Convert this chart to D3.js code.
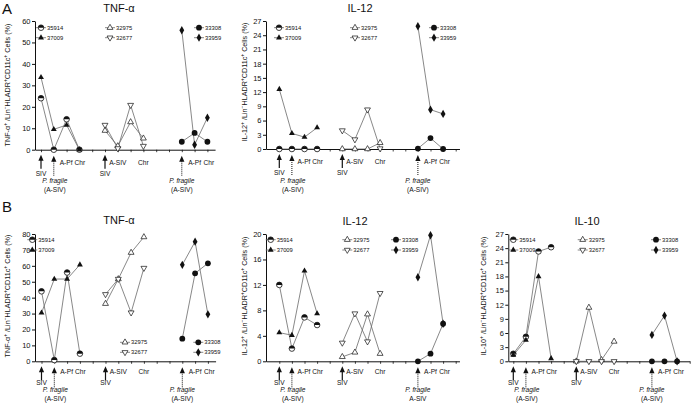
<!DOCTYPE html>
<html><head><meta charset="utf-8">
<script src="https://cdn.jsdelivr.net/npm/d3@7"></script>
<style>body{margin:0;background:#fff}svg{display:block}text{font-family:"Liberation Sans",Arial,sans-serif}</style>
</head><body><svg id="c" width="691" height="404"></svg>
<script>
// ---- data ----
const monkeys = ["35914","37009","32975","32677","33308","33959"];
const timeG1 = [1,2,3,4];
const timeG2 = [6,7,8,9];
const timeG3 = [12,13,14];

const aTnf35914 = [24, 0, 14.2, 0];
const aTnf37009 = [33.7, 9.5, 11.5, 0];
const aTnf32975 = [8.9, 1.7, 12.9, 5.3];
const aTnf32677 = [11.5, 0.6, 20.8, 1.7];
const aTnf33308 = [3.7, 7.8, 3.7];
const aTnf33959 = [55.7, 2.3, 14.9];

const aIl12_35914 = [0, 0, 0, 0];
const aIl12_37009 = [12.6, 3.3, 2.5, 4.5];
const aIl12_32975 = [0, 0, 0, 1.3];
const aIl12_32677 = [3.9, 2.0, 8.3, 0.1];
const aIl12_33308 = [0.1, 2.3, 0];
const aIl12_33959 = [25.9, 8.3, 7.4];

const bTnf35914 = [44, 0.8, 55.8, 4.8];
const bTnf37009 = [30.4, 51.7, 51.7, 60.7];
const bTnf32975 = [36.2, 51.7, 68.3, 78.1];
const bTnf32677 = [42.1, 51.7, 30.6, 58.6];
const bTnf33308 = [14.2, 55.3, 61.6];
const bTnf33959 = [60.6, 75.2, 29.5];

const bIl12_35914 = [12.0, 2.0, 6.9, 5.7];
const bIl12_37009 = [4.5, 4.1, 14.2, 7.5];
const bIl12_32975 = [0.7, 1.4, 7.4, 1.2];
const bIl12_32677 = [2.9, 7.5, 3.1, 10.7];
const bIl12_33308 = [0, 1.2, 5.9];
const bIl12_33959 = [13.2, 19.8, 5.9];

const bIl10_35914 = [1.6, 5.2, 23.3, 24.2];
const bIl10_37009 = [1.3, 4.5, 18.0, 0.6];
const bIl10_32975 = [0, 11.4, 0.3, 4.2];
const bIl10_32677 = [0, 0, 0, 0];
const bIl10_33308 = [0, 0, 0];
const bIl10_33959 = [5.6, 9.7, 0];

const yTicksTnfA = [0,10,20,30,40,50,60];
const yTicksIl12A = [0,3,6,9,12,15,18,21,24,27];
const yTicksTnfB = [0,10,20,30,40,50,60,70,80];
const yTicksIl12B = [0,4,8,12,16,20];
const yTicksIl10B = [0,3,6,9,12,15,18,21,24,27];

// ---- layout ----
const symbolOf = {"35914":"half","37009":"ftri","32975":"otri","32677":"otridown","33308":"fcirc","33959":"diam"};
const svg = d3.select("#c");
const LINE = "#6a6a6a";

function drawSymbol(g, type, x, y) {
  const s = g.append("g").attr("transform", `translate(${x},${y})`);
  if (type === "half") {
    s.append("circle").attr("r", 2.8).attr("fill", "#fff").attr("stroke", "#111").attr("stroke-width", 0.8);
    s.append("path").attr("d", d3.arc()({innerRadius:0, outerRadius:2.8, startAngle:-Math.PI/2, endAngle:Math.PI/2})).attr("fill", "#111");
  } else if (type === "fcirc") {
    s.append("circle").attr("r", 2.9).attr("fill", "#111");
  } else if (type === "diam") {
    s.append("path").attr("d", d3.symbol(d3.symbolDiamond, 20)()).attr("fill", "#111");
  } else if (type === "ftri") {
    s.append("path").attr("d", d3.symbol(d3.symbolTriangle, 15)()).attr("fill", "#111");
  } else if (type === "otri") {
    s.append("path").attr("d", d3.symbol(d3.symbolTriangle, 15)()).attr("fill", "#fff").attr("stroke", "#111").attr("stroke-width", 0.7);
  } else if (type === "otridown") {
    s.append("path").attr("d", d3.symbol(d3.symbolTriangle, 15)()).attr("transform", "rotate(180)").attr("fill", "#fff").attr("stroke", "#111").attr("stroke-width", 0.7);
  }
}

function yLabel(g, x, y, name) {
  const t = g.append("text").attr("transform", `translate(${x},${y}) rotate(-90)`).attr("text-anchor", "middle").attr("font-size", 7.2).attr("fill", "#111");
  const parts = [[name,0],["+",1],[" /Lin",0],["−",1],["HLADR",0],["+",1],["CD11c",0],["+",1],[" Cells (%)",0]];
  parts.forEach(p => {
    const ts = t.append("tspan").text(p[0]);
    if (p[1]) ts.attr("font-size", 5).attr("baseline-shift", "super");
  });
}

function solidArrow(g, x, y0) {
  g.append("line").attr("x1", x).attr("x2", x).attr("y1", y0 + 10).attr("y2", y0 + 19).attr("stroke", "#111").attr("stroke-width", 1.2);
  g.append("path").attr("d", `M${x},${y0+5}L${x-2.6},${y0+11}L${x+2.6},${y0+11}Z`).attr("fill", "#111");
}
function dottedArrow(g, x, y0) {
  g.append("line").attr("x1", x).attr("x2", x).attr("y1", y0 + 11).attr("y2", y0 + 26).attr("stroke", "#111").attr("stroke-width", 1).attr("stroke-dasharray", "1,1");
  g.append("path").attr("d", `M${x},${y0+6}L${x-2.6},${y0+12}L${x+2.6},${y0+12}Z`).attr("fill", "#111");
}

function panel(cfg) {
  const g = svg.append("g");
  const step = cfg.step;
  const x = d3.scaleLinear().domain([1, 15]).range([cfg.pos1, cfg.pos1 + 14 * step]);
  const y = d3.scaleLinear().domain([0, cfg.ymax]).range([cfg.y0, cfg.yTop]);

  // y axis
  const ya = g.append("g").attr("transform", `translate(${cfg.yAxisX},0)`)
    .call(d3.axisLeft(y).tickValues(cfg.yTicks).tickSize(3).tickSizeOuter(0).tickPadding(1.5));
  ya.select(".domain").attr("stroke", "#111").attr("stroke-width", 1);
  ya.selectAll(".tick line").attr("stroke", "#111").attr("stroke-width", 1);
  ya.selectAll(".tick text").attr("font-size", 7.5).attr("fill", "#111").attr("font-family", "Liberation Sans, Arial");

  // x axis
  const xStart = x.invert(cfg.yAxisX);
  const xs = d3.scaleLinear().domain([xStart, cfg.xEnd]).range([cfg.yAxisX, x(cfg.xEnd)]);
  const xt = d3.range(1, Math.floor(cfg.xEnd) + 1);
  const xa = g.append("g").attr("transform", `translate(0,${cfg.y0})`)
    .call(d3.axisBottom(xs).tickValues(xt).tickFormat("").tickSize(2.5).tickSizeOuter(0));
  xa.select(".domain").attr("stroke", "#111").attr("stroke-width", 1);
  xa.selectAll(".tick line").attr("stroke", "#111").attr("stroke-width", 0.8);

  // title
  g.append("text").attr("x", cfg.titleX).attr("y", cfg.titleY).attr("text-anchor", "middle").attr("font-size", 11).attr("fill", "#111").text(cfg.title);
  yLabel(g, cfg.labelX, cfg.labelY, cfg.yName);

  // series
  const groups = [timeG1, timeG1, timeG2, timeG2, timeG3, timeG3];
  monkeys.forEach((m, i) => {
    const vals = cfg.series[i];
    const pts = vals.map((v, j) => [x(groups[i][j]), y(v)]);
    g.append("path").attr("d", d3.line()(pts)).attr("fill", "none").attr("stroke", LINE).attr("stroke-width", 0.8);
  });
  monkeys.forEach((m, i) => {
    const vals = cfg.series[i];
    vals.forEach((v, j) => drawSymbol(g, symbolOf[m], x(groups[i][j]), y(v)));
  });

  // legends
  cfg.legends.forEach((L, k) => {
    [0, 1].forEach(r => {
      const m = monkeys[k * 2 + r];
      const ly = L.rows[r];
      g.append("line").attr("x1", L.x - 5).attr("x2", L.x + 5).attr("y1", ly).attr("y2", ly).attr("stroke", LINE).attr("stroke-width", 0.8);
      drawSymbol(g, symbolOf[m], L.x, ly);
      g.append("text").attr("x", L.x + 6).attr("y", ly + 2).attr("font-size", 5.8).attr("fill", "#111").text(m);
    });
  });

  // x annotations
  const a0 = cfg.y0;
  const fs = 6.6;
  const d = cfg.annot;
  const txt = (px, dy, s, it) => g.append("text").attr("x", px).attr("y", a0 + dy).attr("text-anchor", "middle").attr("font-size", fs).attr("fill", "#111").attr("font-style", it ? "italic" : null).text(s);
  solidArrow(g, x(1), a0); txt(x(1), d[1], "SIV");
  dottedArrow(g, x(2), a0); txt(x(2) + 1, d[2], "P. fragile", true); txt(x(2) + 1, d[3], "(A-SIV)");
  txt(x(3) - 0.5, d[0], "A-Pf"); txt(x(4) + 0.5, d[0], "Chr");
  solidArrow(g, x(6), a0); txt(x(6), d[1], "SIV");
  txt(x(7), d[0], "A-SIV"); txt(x(9), d[0], "Chr");
  dottedArrow(g, x(12), a0); txt(x(12), d[2], "P. fragile", true); txt(x(12), d[3], cfg.lastLabel);
  txt(x(13), d[0], "A-Pf"); txt(x(14) + 1.5, d[0], "Chr");
}

const annA = [15, 26, 33.5, 42.5];
const annB = [12.5, 23.5, 31, 39.5];

panel({title:"TNF-α", titleX:119, titleY:12, yName:"TNF-α", labelX:10, labelY:85,
  yAxisX:35, pos1:41, step:12.8, xEnd:14.6, y0:149.7, yTop:21, ymax:60, yTicks:yTicksTnfA,
  series:[aTnf35914,aTnf37009,aTnf32975,aTnf32677,aTnf33308,aTnf33959],
  legends:[{x:41,rows:[27.7,37.7]},{x:110,rows:[27.7,37.7]},{x:199,rows:[27.7,37.7]}],
  lastLabel:"(A-SIV)", annot:annA});
panel({title:"IL-12", titleX:360, titleY:12, yName:"IL-12", labelX:247, labelY:82,
  yAxisX:266, pos1:279.3, step:12.6, xEnd:15.3, y0:149, yTop:21, ymax:27, yTicks:yTicksIl12A,
  series:[aIl12_35914,aIl12_37009,aIl12_32975,aIl12_32677,aIl12_33308,aIl12_33959],
  legends:[{x:279,rows:[27.7,37.7]},{x:355,rows:[27.7,37.7]},{x:434,rows:[27.7,37.7]}],
  lastLabel:"(A-SIV)", annot:annA});
panel({title:"TNF-α", titleX:119, titleY:224, yName:"TNF-α", labelX:10, labelY:296,
  yAxisX:35, pos1:41.5, step:12.8, xEnd:14.6, y0:361.3, yTop:234, ymax:80, yTicks:yTicksTnfB,
  series:[bTnf35914,bTnf37009,bTnf32975,bTnf32677,bTnf33308,bTnf33959],
  legends:[{x:32.3,rows:[239.7,250]},{x:125,rows:[342.3,352.3]},{x:198.3,rows:[342.3,352.3]}],
  lastLabel:"(A-SIV)", annot:annB});
panel({title:"IL-12", titleX:355, titleY:225, yName:"IL-12", labelX:247, labelY:296,
  yAxisX:266, pos1:279.3, step:12.6, xEnd:15.3, y0:361.3, yTop:234, ymax:20, yTicks:yTicksIl12B,
  series:[bIl12_35914,bIl12_37009,bIl12_32975,bIl12_32677,bIl12_33308,bIl12_33959],
  legends:[{x:270.7,rows:[239.7,250]},{x:347.3,rows:[239.7,250]},{x:396,rows:[239.7,250]}],
  lastLabel:"A-SIV", annot:annB});
panel({title:"IL-10", titleX:587, titleY:225, yName:"IL-10", labelX:486, labelY:296,
  yAxisX:508.3, pos1:513.3, step:12.6, xEnd:15, y0:361.3, yTop:234, ymax:27, yTicks:yTicksIl10B,
  series:[bIl10_35914,bIl10_37009,bIl10_32975,bIl10_32677,bIl10_33308,bIl10_33959],
  legends:[{x:513.3,rows:[239.7,250]},{x:582.7,rows:[239.7,250]},{x:656,rows:[239.7,250]}],
  lastLabel:"(A-SIV)", annot:annB});

svg.append("text").attr("x", 2).attr("y", 14).attr("font-size", 15).attr("fill", "#111").text("A");
svg.append("text").attr("x", 2).attr("y", 212).attr("font-size", 15).attr("fill", "#111").text("B");
</script></body></html>
